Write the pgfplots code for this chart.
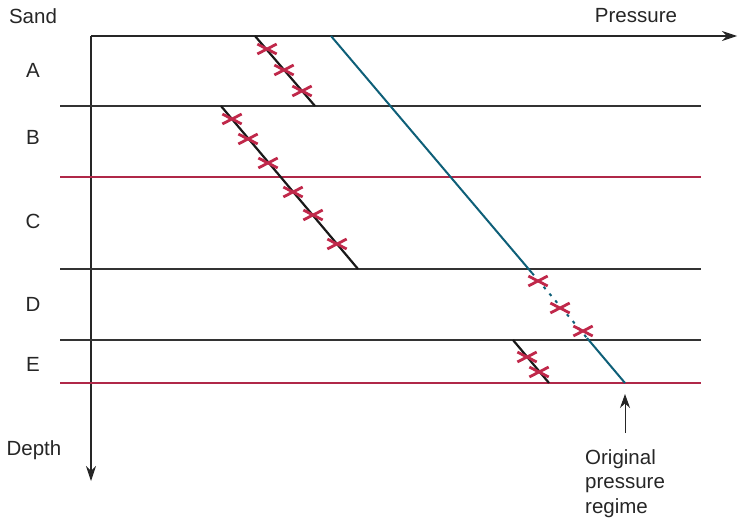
\documentclass[border=0pt]{standalone}
\usepackage{pgfplots}
\pgfplotsset{compat=1.18}
\usepackage{fontspec}
\setmainfont{Liberation Sans}
\usetikzlibrary{arrows.meta}
\definecolor{pblue}{HTML}{0E5F78}
\definecolor{pred}{HTML}{C0284A}
\definecolor{lred}{HTML}{B02848}
\definecolor{lgray}{HTML}{333333}
\tikzset{lbl/.style={font=\fontsize{20.5}{24}\selectfont, text=black!85}}
\begin{document}
\begin{tikzpicture}
\begin{axis}[
  width=738pt, height=522pt, scale only axis,
  xmin=0, xmax=738, ymin=0, ymax=522, y dir=reverse,
  axis lines=none, clip=false,
]
\path (axis cs:0,0) rectangle (axis cs:738,522);
% axes
\addplot[black!85, line width=1.1pt, -{Stealth[length=15pt,width=10pt]}] coordinates {(91,36) (737,36)};
\addplot[black!85, line width=1.1pt, -{Stealth[length=15pt,width=10pt]}] coordinates {(91,36) (91,481)};
% sand boundaries
\addplot[lgray, line width=1.1pt] coordinates {(60,106) (701,106)};
\addplot[lred, line width=1.1pt] coordinates {(60,177) (701,177)};
\addplot[lgray, line width=1.1pt] coordinates {(60,269) (701,269)};
\addplot[lgray, line width=1.1pt] coordinates {(60,340) (701,340)};
\addplot[lred, line width=1.1pt] coordinates {(60,383) (701,383)};
% original pressure regime
\addplot[pblue, line width=2pt] coordinates {(331,36) (532,273)};
\addplot[pblue, line width=2pt, dash pattern=on 3pt off 6pt] coordinates {(532,273) (587,338)};
\addplot[pblue, line width=2pt] coordinates {(587,338) (625,383)};
% measured gradients
\addplot[black!90, line width=2.2pt] coordinates {(255,36) (315,106)};
\addplot[black!90, line width=2.2pt] coordinates {(221,106) (358,269)};
\addplot[black!90, line width=2.2pt] coordinates {(513,340) (549,383)};
% pressure measurements
\addplot[only marks, pred, line width=2.8pt, mark=x, mark size=7pt, mark options={xscale=1.95, line width=2.8pt, draw=pred, solid}]
  coordinates {(267,49) (284,70) (302,91)
               (232,119) (248,139) (268,163) (293,192) (313,215) (337,244)
               (538,281) (560,308) (583,331)
               (527,357) (539,372)};
% arrow to original pressure regime
\addplot[black!85, line width=1pt, -{Stealth[length=14pt,width=10pt]}] coordinates {(625,433) (625,394)};
% labels
\node[lbl] at (axis cs:33,16) {Sand};
\node[lbl] at (axis cs:33,70) {A};
\node[lbl] at (axis cs:33,137) {B};
\node[lbl] at (axis cs:33,221) {C};
\node[lbl] at (axis cs:33,304) {D};
\node[lbl] at (axis cs:33,364) {E};
\node[lbl] at (axis cs:34,450) {Depth};
\node[lbl] at (axis cs:636,16) {Pressure};
\node[lbl, anchor=north west, align=left, inner sep=0pt, font=\fontsize{20.5}{24.5}\selectfont] at (axis cs:585,449) {Original\\pressure\\regime};
\end{axis}
\end{tikzpicture}
\end{document}
